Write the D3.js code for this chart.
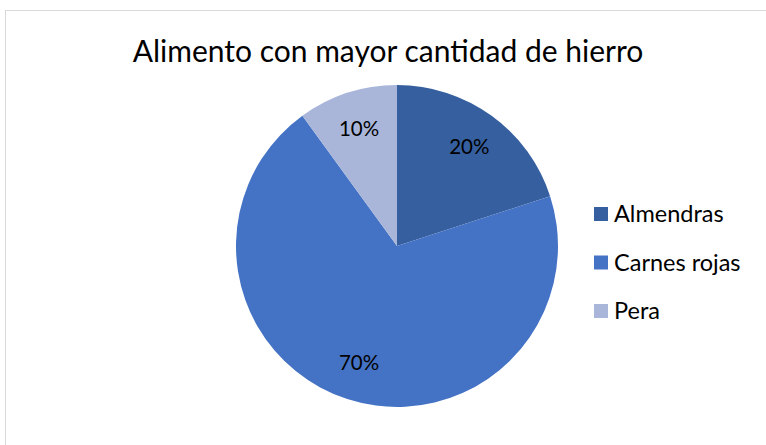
<!DOCTYPE html>
<html>
<head>
<meta charset="utf-8">
<script src="https://cdn.jsdelivr.net/npm/d3@7"></script>
<style>
  html, body { margin: 0; padding: 0; background: #fff; }
  svg { display: block; }
  text { font-family: Lato, "Open Sans", sans-serif; fill: #000; }
</style>
</head>
<body>
<svg id="chart" width="766" height="445"></svg>
<script>
// Data
const categories = ["Almendras", "Carnes rojas", "Pera"];
const shares = [20, 70, 10];
const sliceColors = ["#365F9F", "#4472C4", "#A9B6DA"];
const chartTitle = "Alimento con mayor cantidad de hierro";

const svg = d3.select("#chart");
const W = 766, H = 445;

// Chart frame
svg.append("rect")
  .attr("x", 5.5).attr("y", 10.5)
  .attr("width", W + 10).attr("height", H + 10)
  .attr("fill", "#fff")
  .attr("stroke", "#D9D9D9")
  .attr("stroke-width", 1);

// Title
svg.append("text")
  .attr("x", 388).attr("y", 62)
  .attr("text-anchor", "middle")
  .style("font-size", "30px")
  .text(chartTitle);

// Pie
const cx = 397, cy = 246, radius = 161;
const color = d3.scaleOrdinal().domain(categories).range(sliceColors);
const pie = d3.pie().sort(null).value(d => d.value);
const data = categories.map((c, i) => ({ name: c, value: shares[i] }));
const arcs = pie(data);
const total = d3.sum(shares);

const arc = d3.arc().innerRadius(0).outerRadius(radius);
const labelArc = d3.arc().innerRadius(123).outerRadius(123);

const g = svg.append("g").attr("transform", `translate(${cx},${cy})`);
g.selectAll("path.slice")
  .data(arcs)
  .join("path")
  .attr("class", "slice")
  .attr("d", arc)
  .attr("fill", d => color(d.data.name));

g.selectAll("text.pct")
  .data(arcs)
  .join("text")
  .attr("class", "pct")
  .attr("transform", d => `translate(${labelArc.centroid(d)})`)
  .attr("text-anchor", "middle")
  .attr("dy", "0.35em")
  .style("font-size", "20.5px")
  .text(d => Math.round(d.data.value / total * 100) + "%");

// Legend
const legend = svg.append("g").attr("transform", "translate(594,207)");
const rows = legend.selectAll("g")
  .data(categories)
  .join("g")
  .attr("transform", (d, i) => `translate(0,${i * 48.5})`);
rows.append("rect")
  .attr("width", 14).attr("height", 14)
  .attr("fill", d => color(d));
rows.append("text")
  .attr("x", 20).attr("y", 7)
  .attr("dy", "0.36em")
  .style("font-size", "23.5px")
  .text(d => d);
</script>
</body>
</html>
